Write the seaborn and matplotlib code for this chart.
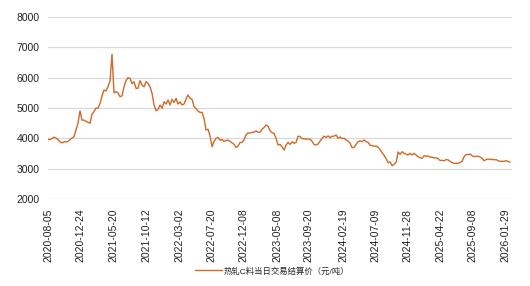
import numpy as np
import pandas as pd
import matplotlib
matplotlib.use("Agg")
import matplotlib.pyplot as plt
import seaborn as sns

start_date = "2020-08-05"
end_date = "2026-02-20"
axis_end = "2026-02-26"
tick_dates = ["2020-08-05", "2020-12-24", "2021-05-20", "2021-10-12", "2022-03-02",
              "2022-07-20", "2022-12-08", "2023-05-08", "2023-09-20", "2024-02-19",
              "2024-07-09", "2024-11-28", "2025-04-22", "2025-09-08", "2026-01-29"]
y_ticks = [2000, 3000, 4000, 5000, 6000, 7000, 8000]
legend_label = "热轧C料当日交易结算价（元/吨）"

price = [
    3968, 3960, 3990, 4040, 4010, 3960, 3880, 3850, 3889, 3880,
    3900, 3960, 4010, 4054, 4274, 4500, 4900, 4600, 4600, 4560,
    4530, 4495, 4800, 4880, 5000, 4990, 5150, 5400, 5593, 5560,
    5703, 5900, 6770, 5500, 5538, 5500, 5373, 5400, 5703, 5900,
    6000, 5980, 5800, 5868, 5648, 5650, 5900, 5758, 5700, 5868,
    5814, 5700, 5484, 5100, 4910, 4950,
    5100, 4990, 5208, 5130, 5264, 5100, 5286, 5180, 5319, 5130,
    5200, 5100, 5130, 5300, 5428, 5319, 5286, 5050, 4980, 4900,
    4850, 4860, 4650, 4274, 4300, 4080, 3724, 3900, 4000, 4030,
    3940, 3960, 3900, 3930, 3940, 3900, 3850, 3800, 3700, 3750,
    3860, 3870, 3950, 4120, 4180, 4170, 4200, 4200, 4250, 4200,
    4200, 4300, 4360, 4440, 4400, 4250, 4190, 4160, 4000,
    3780, 3800, 3724, 3615, 3780, 3868, 3800, 3890, 3835, 3868,
    4070, 4060, 3990, 3990, 3970, 3980, 3975, 3900, 3800, 3780,
    3815, 3910, 4000, 4070, 4030, 4080, 4020, 4070, 4070, 4110,
    4000, 4044, 4000, 4000, 3945, 3912, 3835, 3692, 3700, 3800,
    3890, 3912, 3890, 3945, 3890, 3868, 3770, 3760, 3740, 3745,
    3700, 3630, 3530, 3440, 3330, 3200, 3220,
    3098, 3143, 3209, 3550, 3473, 3560, 3506, 3473, 3450, 3506,
    3450, 3506, 3450, 3395, 3362, 3340, 3428, 3410, 3420, 3380,
    3380, 3355, 3355, 3330, 3270, 3275, 3260, 3300, 3290, 3240,
    3200, 3176, 3176, 3180, 3200, 3240, 3395, 3460, 3470, 3480,
    3430, 3395, 3410, 3410, 3385, 3340, 3260, 3300, 3320, 3300,
    3310, 3290, 3300, 3260, 3240, 3245, 3240, 3270, 3231, 3220,
]

sns.set_theme(style="white")
plt.rcParams['font.family'] = ['Liberation Sans', 'Noto Sans CJK SC', 'DejaVu Sans']

dates = pd.date_range(start_date, end_date, periods=len(price))
df = pd.DataFrame({"date": dates, "price": price})

fig = plt.figure(figsize=(5.3, 2.86), dpi=100)
ax = fig.add_axes([48 / 530, 1 - 199 / 286, (511.5 - 48) / 530, (199 - 17) / 286])

sns.lineplot(data=df, x="date", y="price", ax=ax, color="#CF6A27",
             linewidth=1.0, legend=False)

ax.set_ylim(2000, 8000)
ax.set_yticks(y_ticks)
ax.set_yticklabels([str(v) for v in y_ticks])
ax.set_xlim(pd.Timestamp(start_date), pd.Timestamp(axis_end))
ax.set_xticks(pd.to_datetime(tick_dates))
ax.set_xticklabels(tick_dates, rotation=90)
ax.set_xlabel("")
ax.set_ylabel("")
ax.grid(axis="y", color="#d9d9d9", linewidth=0.9)
ax.grid(axis="x", visible=False)
ax.set_axisbelow(True)
for s in ax.spines.values():
    s.set_visible(False)
ax.tick_params(axis="y", length=0, pad=6, labelsize=7.5, colors="#222222")
ax.tick_params(axis="x", length=0, pad=7, labelsize=7.5, colors="#222222")

line = ax.lines[0]
fig.legend([line], [legend_label], loc="center", bbox_to_anchor=(0.514, 0.052),
           frameon=False, fontsize=6, handlelength=3.2, handletextpad=0.2,
           borderaxespad=0)

fig.savefig("out.png", dpi=100)
